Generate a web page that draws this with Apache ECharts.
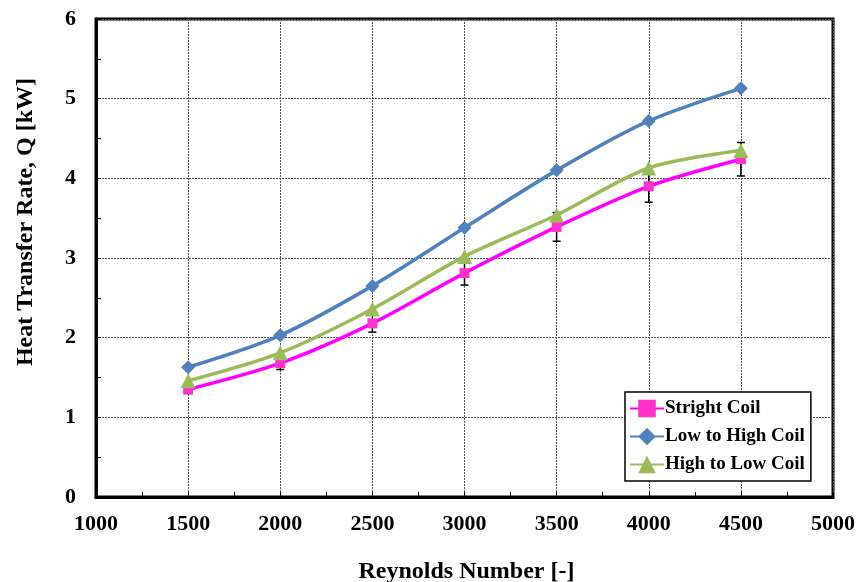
<!DOCTYPE html>
<html><head><meta charset="utf-8">
<script src="https://cdn.jsdelivr.net/npm/echarts@6/dist/echarts.min.js"></script>
<style>html,body{margin:0;padding:0;background:#fff}#c{width:859px;height:582px}</style>
</head><body><div id="c"></div>
<script>
const reynolds = [1500, 2000, 2500, 3000, 3500, 4000, 4500];
const stright = [1.35, 1.68, 2.18, 2.81, 3.39, 3.90, 4.24];
const strightErr = [0.05, 0.08, 0.11, 0.15, 0.18, 0.20, 0.21];
const lowToHigh = [1.63, 2.03, 2.65, 3.38, 4.10, 4.72, 5.13];
const highToLow = [1.46, 1.81, 2.36, 3.02, 3.54, 4.13, 4.35];
const seriesNames = ['Stright Coil', 'Low to High Coil', 'High to Low Coil'];

const font = 'Liberation Serif';
const chart = echarts.init(document.getElementById('c'));
const pair = arr => reynolds.map((x, i) => [x, arr[i]]);
const errData = reynolds.map((x, i) => [x, stright[i] - strightErr[i], stright[i] + strightErr[i]]);

chart.setOption({
  animation: false,
  grid: {left: 96, right: 26, top: 19, bottom: 85, show: true, borderColor: '#000', borderWidth: 3, backgroundColor: 'transparent', containLabel: false, outerBoundsMode: 'none'},
  xAxis: {
    type: 'value', min: 1000, max: 5000, interval: 500,
    name: 'Reynolds Number [-]', nameLocation: 'middle', nameGap: 63,
    nameTextStyle: {fontFamily: font, fontWeight: 'bold', fontSize: 24, color: '#000', padding: [0, 0, 0, 4]},
    axisLine: {show: true, lineStyle: {color: '#000', width: 3}},
    axisTick: {show: true, inside: true, length: 5, lineStyle: {color: '#000'}},
    minorTick: {show: true, splitNumber: 2, length: 5, lineStyle: {color: '#000'}},
    axisLabel: {fontFamily: font, fontWeight: 'bold', fontSize: 22, color: '#000', margin: 16, formatter: v => String(v)},
    splitLine: {show: true, lineStyle: {color: '#555', type: [2, 1], width: 1}}
  },
  yAxis: {
    type: 'value', min: 0, max: 6, interval: 1,
    name: 'Heat Transfer Rate, Q [kW]', nameLocation: 'middle', nameGap: 58,
    nameTextStyle: {fontFamily: font, fontWeight: 'bold', fontSize: 24, color: '#000', padding: [0, 0, 0, 72]},
    axisLine: {show: true, lineStyle: {color: '#000', width: 3}},
    axisTick: {show: true, inside: true, length: 5, lineStyle: {color: '#000'}},
    minorTick: {show: true, splitNumber: 2, length: 5, lineStyle: {color: '#000'}},
    axisLabel: {fontFamily: font, fontWeight: 'bold', fontSize: 22, color: '#000', margin: 20},
    splitLine: {show: true, lineStyle: {color: '#555', type: [2, 1], width: 1}}
  },
  legend: {
    data: seriesNames, orient: 'vertical', left: 625, top: 392,
    backgroundColor: '#fff', borderColor: '#000', borderWidth: 1.5,
    padding: [7, 6, 7, 4], itemGap: 9, itemWidth: 34, itemHeight: 22,
    textStyle: {fontFamily: font, fontWeight: 'bold', fontSize: 19, color: '#000', padding: [0, 0, 0, -4]}
  },
  series: [
    {
      name: 'errbar', type: 'custom', z: 1,
      data: errData,
      renderItem: function (params, api) {
        const x = api.value(0);
        const lo = api.coord([x, api.value(1)]);
        const hi = api.coord([x, api.value(2)]);
        const w = 4;
        const st = {stroke: '#000', lineWidth: 1.5};
        return {type: 'group', children: [
          {type: 'line', shape: {x1: lo[0], y1: lo[1], x2: hi[0], y2: hi[1]}, style: st},
          {type: 'line', shape: {x1: lo[0] - w, y1: lo[1], x2: lo[0] + w, y2: lo[1]}, style: st},
          {type: 'line', shape: {x1: hi[0] - w, y1: hi[1], x2: hi[0] + w, y2: hi[1]}, style: st}
        ]};
      }
    },
    {
      name: seriesNames[0], type: 'line', smooth: 0.3, z: 3,
      data: pair(stright), symbol: 'rect', symbolSize: 10,
      lineStyle: {color: '#FF00FF', width: 3.5},
      itemStyle: {color: '#FF33CC'}
    },
    {
      name: seriesNames[1], type: 'line', smooth: 0.3, z: 3,
      data: pair(lowToHigh), symbol: 'diamond', symbolSize: 14,
      lineStyle: {color: '#4F81BD', width: 3.5},
      itemStyle: {color: '#4F81BD'}
    },
    {
      name: seriesNames[2], type: 'line', smooth: 0.3, z: 3,
      data: pair(highToLow), symbol: 'triangle', symbolSize: 15,
      lineStyle: {color: '#9BBB59', width: 3.5},
      itemStyle: {color: '#9BBB59'}
    }
  ]
});
</script></body></html>
